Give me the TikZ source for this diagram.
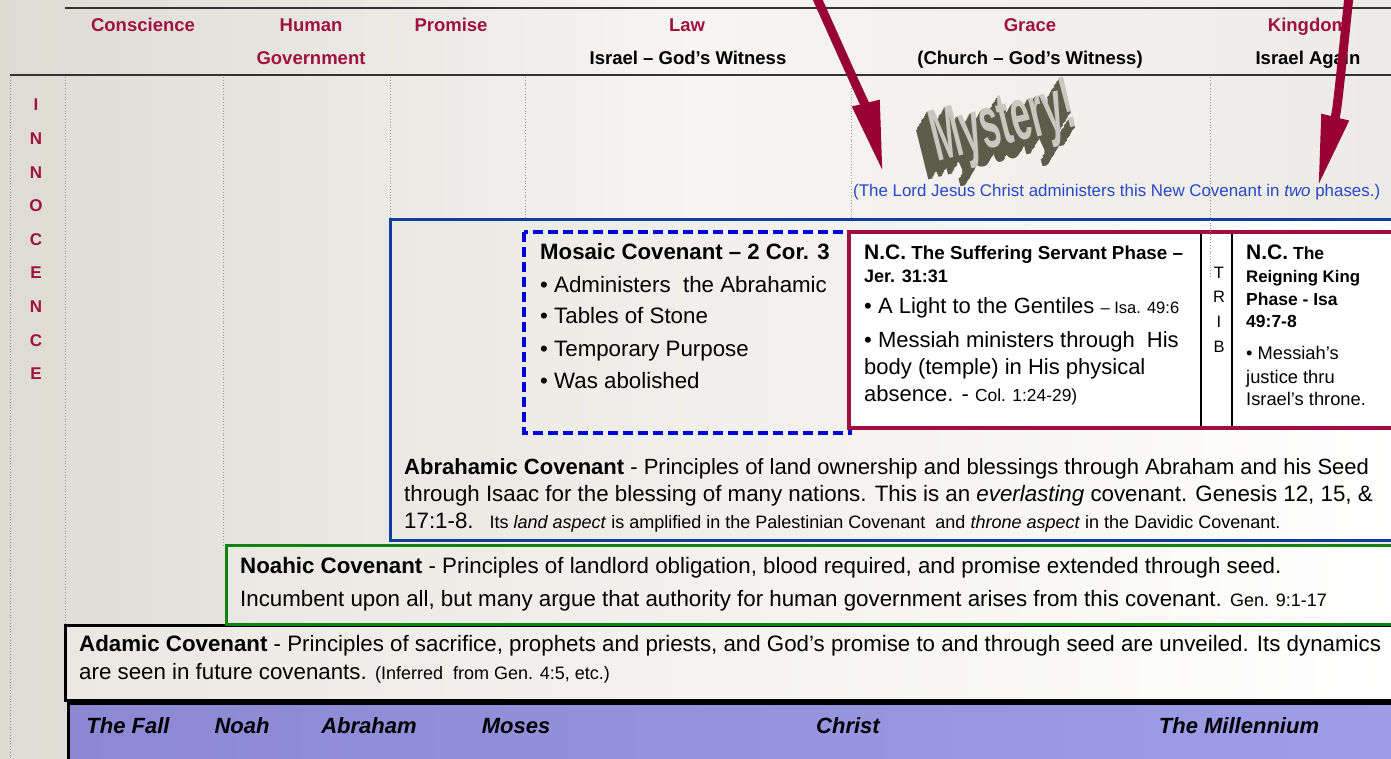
\documentclass[tikz,border=0pt]{standalone}
\usepackage{fontspec}
\setmainfont{Liberation Sans}
\usetikzlibrary{arrows.meta}

\definecolor{bgL}{RGB}{222,219,211}
\definecolor{bgM}{RGB}{246,245,243}
\definecolor{bgR}{RGB}{236,235,231}
\definecolor{boxL}{RGB}{234,232,226}
\definecolor{headred}{RGB}{160,16,64}
\definecolor{arrowred}{RGB}{153,0,51}
\definecolor{ncred}{RGB}{160,15,65}
\definecolor{abrblue}{RGB}{18,60,160}
\definecolor{mosblue}{RGB}{0,0,220}
\definecolor{phaseblue}{RGB}{40,70,200}
\definecolor{noahgreen}{RGB}{16,130,16}
\definecolor{barL}{RGB}{140,136,212}
\definecolor{barR}{RGB}{158,158,232}
\definecolor{mystside}{RGB}{92,92,74}
\definecolor{mystface}{RGB}{200,200,192}

\newcommand\fsz[1]{\fontsize{#1}{#1}\selectfont}
\newcommand\smtxt[1]{{\fsz{18}#1}}
\newdimen\mystep \mystep=1.1pt
\newcommand\mystword{\scalebox{0.48}[1]{Mystery!}}

\tikzset{
  head/.style={anchor=base, inner sep=0, text=headred, font=\fsz{18.5}\bfseries},
  subhead/.style={anchor=base, inner sep=0, font=\fsz{18.5}\bfseries},
  sidelet/.style={anchor=base, inner sep=0, text=headred, font=\fsz{17}\bfseries},
  txt/.style={anchor=base west, inner sep=0, font=\fsz{22.3}},
  nctxt/.style={anchor=base west, inner sep=0, font=\fsz{17.5}\bfseries},
  tl/.style={anchor=base, inner sep=0, font=\fsz{22}\bfseries\itshape},
  rule/.style={draw=black!80, line width=1.6pt},
  colline/.style={draw=gray!80, dotted, line width=0.8pt},
  mystery/.style={inner sep=0, rotate=14, font=\fsz{74}\bfseries},
  bigarrow/.style={draw=arrowred, line width=9pt, -{Triangle[length=72pt,width=26pt]}}
}

\begin{document}
\begin{tikzpicture}[x=1pt,y=-1pt]
  \useasboundingbox (0,0) rectangle (1391,759);
  \clip (0,0) rectangle (1391,759);
  % background
  \shade[left color=bgL, right color=bgR, middle color=bgM] (0,0) rectangle (1391,759);
  \draw[rule] (65,8) -- (1391,8);
  \draw[rule] (10,75) -- (1391,75);
  \foreach \x/\yb in {10/759, 65/625, 223/545, 390/220, 525/232, 851/232}
    \draw[colline] (\x,77) -- (\x,\yb);

  % dispensations
  \node[head] (consc) at (143,32) {Conscience};
  \node[head] (human) at (311,32) {Human};
  \node[head] (govt) at (311,65) {Government};
  \node[head] (prom) at (451,32) {Promise};
  \node[head] (law) at (687,32) {Law};
  \node[subhead] (israel) at (688,65) {Israel – God’s Witness};
  \node[head] (grace) at (1030,32) {Grace};
  \node[subhead] (church) at (1030,65) {(Church – God’s Witness)};
  \node[head] (kingd) at (1308,32) {Kingdom};
  \node[subhead] (again) at (1308,65) {Israel Again};
  \foreach \ch [count=\i from 0] in {I,N,N,O,C,E,N,C,E}
    \node[sidelet] (inno\i) at (36,{111+33.6*\i}) {\ch};

  % mystery
  \node[mystery] (myst) at (1006,134) {\foreach \k in {14,...,1}{\rlap{\kern-\k\mystep\raisebox{-\k\mystep}{\color{mystside}\mystword}}}\color{mystface}\mystword};
  \node[anchor=base west, inner sep=0, text=phaseblue, font=\fsz{16.9}] (phases) at (853,197)
    {(The Lord Jesus Christ administers this New Covenant in \textit{two} phases.)};

  % covenants
  \draw[line width=3pt, draw=abrblue, left color=boxL, right color=white] (390,220) rectangle (1400,540);
  \draw[line width=3.5pt, draw=mosblue, dash pattern=on 10pt off 5pt] (524,232) rectangle (850,433);
  \draw[line width=3.5pt, draw=ncred, fill=white] (849,232) rectangle (1400,428);
  \draw[line width=1.5pt] (1201,234) -- (1201,426);
  \draw[line width=1.5pt] (1232,234) -- (1232,426);
  \draw[colline] (1210,77) -- (1210,278);
  \draw[line width=3pt, draw=black, left color=boxL, right color=white] (65,625) rectangle (1400,700);
  \draw[line width=3pt, draw=noahgreen, left color=boxL, right color=white] (226,545) rectangle (1400,624);
  \draw[line width=3pt, draw=black, left color=barL, right color=barR] (68,703) rectangle (1400,765);

  \node[txt, font=\fsz{22.2}\bfseries] (mos0) at (540,259) {Mosaic Covenant – 2 Cor. 3};
  \node[txt] (mos1) at (540,292) {• Administers\ \ the Abrahamic};
  \node[txt] (mos2) at (540,323) {• Tables of Stone};
  \node[txt] (mos3) at (540,356) {• Temporary Purpose};
  \node[txt] (mos4) at (540,388) {• Was abolished};

  \node[nctxt, font=\fsz{18.8}\bfseries] (ncl0) at (864,260) {{\fsz{21}N.C.} The Suffering Servant Phase –};
  \node[nctxt, font=\fsz{18}\bfseries] (ncl1) at (864,282) {Jer. 31:31};
  \node[txt, font=\fsz{22}] (ncl2) at (864,313) {• A Light to the Gentiles {\fsz{16.5}– Isa. 49:6}};
  \node[txt, font=\fsz{22}] (ncl3) at (864,347) {• Messiah ministers through\ \ His};
  \node[txt, font=\fsz{22}] (ncl4) at (864,374) {body (temple) in His physical};
  \node[txt, font=\fsz{22}] (ncl5) at (864,401) {absence. - {\fsz{17.4}Col. 1:24-29)}};
  \foreach \ch [count=\i from 0] in {T,R,I,B}
    \node[anchor=base, inner sep=0, font=\fsz{16.5}] (trib\i) at (1219,{278+24.8*\i}) {\ch};
  \node[nctxt] (ncr0) at (1246,260) {{\fsz{21}N.C.} The};
  \node[nctxt, font=\fsz{16.8}\bfseries] (ncr1) at (1246,283) {Reigning King};
  \node[nctxt] (ncr2) at (1246,305) {Phase - Isa};
  \node[nctxt] (ncr3) at (1246,327) {49:7-8};
  \node[txt, font=\fsz{18.3}] (ncr4) at (1246,359) {• Messiah’s};
  \node[txt, font=\fsz{18.3}] (ncr5) at (1246,383) {justice thru};
  \node[txt, font=\fsz{18.3}] (ncr6) at (1246,405) {Israel’s throne.};

  \node[txt, font=\fsz{22}] (abr1) at (404,474) {\textbf{Abrahamic Covenant} - Principles of land ownership and blessings through Abraham and his Seed};
  \node[txt] (abr2) at (404,501) {through Isaac for the blessing of many nations. This is an \textit{everlasting} covenant. Genesis 12, 15, \&};
  \node[txt] (abr3) at (404,528) {17:1-8.\hspace{16pt}\smtxt{Its \textit{land aspect} is amplified in the Palestinian Covenant\ \ and \textit{throne aspect} in the Davidic Covenant.}};
  \node[txt] (noah1) at (240,573) {\textbf{Noahic Covenant} - Principles of landlord obligation, blood required, and promise extended through seed.};
  \node[txt] (noah2) at (240,606) {Incumbent upon all, but many argue that authority for human government arises from this covenant. \smtxt{Gen. 9:1-17}};
  \node[txt] (adam1) at (79,651) {\textbf{Adamic Covenant} - Principles of sacrifice, prophets and priests, and God’s promise to and through seed are unveiled. Its dynamics};
  \node[txt] (adam2) at (79,679) {are seen in future covenants. \smtxt{(Inferred\ \ from Gen. 4:5, etc.)}};

  % timeline
  \node[tl] (fall) at (128,733) {The Fall};
  \node[tl] (noah) at (242,733) {Noah};
  \node[tl] (abraham) at (369,733) {Abraham};
  \node[tl] (moses) at (516,733) {Moses};
  \node[tl] (christ) at (848,733) {Christ};
  \node[tl] (mill) at (1239,733) {The Millennium};

  % pointers
  \coordinate (arwAfrom) at (816,-4);
  \coordinate (arwAto) at (883,173);
  \coordinate (arwBfrom) at (1349,-4);
  \coordinate (arwBto) at (1318,187);
  \draw[bigarrow] (arwAfrom) .. controls (868,112) .. (arwAto);
  \draw[bigarrow] (arwBfrom) .. controls (1337,110) .. (arwBto);
\end{tikzpicture}
\end{document}
